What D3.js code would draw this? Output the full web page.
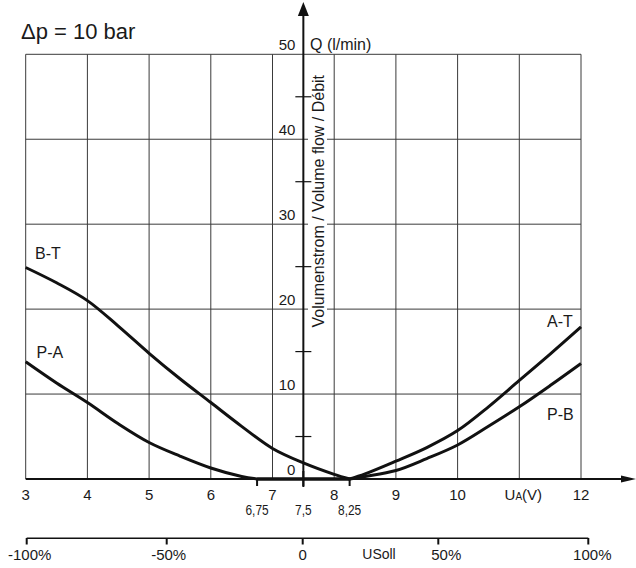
<!DOCTYPE html>
<html>
<head>
<meta charset="utf-8">
<script src="https://cdn.jsdelivr.net/npm/d3@7"></script>
<style>
  body { margin: 0; background: #fff; }
  text { font-family: "Liberation Sans", Arial, sans-serif; fill: #1a1a1a; }
</style>
</head>
<body>
<svg width="636" height="568"></svg>
<script>
// volts on the x axis, Q (l/min) on the y axis
var voltTicks = [3, 4, 5, 6, 7, 8, 9, 10, 11, 12]
var flowTicks = [0, 10, 20, 30, 40, 50]
var flowMinor = [5, 15, 25, 35, 45]
var subTicks = [6.75, 7.5, 8.25]
var subLabels = ['6,75', '7,5', '8,25']
var pctTicks = [-100, -50, 0, 50, 100]
var pctLabels = ['-100%', '-50%', '0', '50%', '100%']
var deadBand = [6.75, 8.25]

var btVolts = [3, 3.5, 4, 4.5, 5, 5.5, 6, 6.5, 7, 7.5, 8, 8.25]
var btFlow = [24.9, 23.1, 21.0, 18.0, 14.8, 11.8, 9.0, 6.2, 3.6, 1.9, 0.55, 0]
var paVolts = [3, 3.5, 4, 4.5, 5, 5.5, 6, 6.5, 6.75]
var paFlow = [13.8, 11.3, 9.0, 6.5, 4.3, 2.7, 1.3, 0.3, 0]
var atVolts = [8.25, 8.5, 9, 9.5, 10, 10.5, 11, 11.5, 12]
var atFlow = [0, 0.6, 2.1, 3.7, 5.7, 8.5, 11.6, 14.7, 17.9]
var pbVolts = [8.25, 8.5, 9, 9.5, 10, 10.5, 11, 11.5, 12]
var pbFlow = [0, 0.3, 1.0, 2.4, 4.0, 6.2, 8.5, 11.0, 13.6]

var svg = d3.select('svg')

var x = d3.scaleLinear().domain([3, 12]).range([25.7, 581])
var y = d3.scaleLinear().domain([0, 50]).range([479, 54.3])
var pct = d3.scaleLinear().domain(pctTicks).range([26.7, 166.7, 302.7, 438.3, 588.3])
var axisX = x(7.5)

// grid
var grid = svg.append('g').attr('stroke', '#3a3a3a').attr('stroke-width', 1)
grid.selectAll('line.v')
  .data(voltTicks)
  .enter().append('line')
  .attr('x1', function (d) { return x(d) }).attr('x2', function (d) { return x(d) })
  .attr('y1', y(50)).attr('y2', y(0))
grid.selectAll('line.h')
  .data(flowTicks.filter(function (d) { return d > 0 }))
  .enter().append('line')
  .attr('x1', x(3)).attr('x2', x(12))
  .attr('y1', function (d) { return y(d) }).attr('y2', function (d) { return y(d) })

// rotated axis title with white gap behind it
var titleG = svg.append('g')
var gap = titleG.append('rect').attr('fill', '#fff')
var vTitle = titleG.append('text')
  .attr('transform', 'translate(324,327.5) rotate(-90)')
  .attr('font-size', 16)
  .text('Volumenstrom / Volume flow / Débit')
var bb = vTitle.node().getBBox()
gap.attr('x', 308).attr('y', 327.5 - bb.width - 2).attr('width', 19).attr('height', bb.width + 4)

// curves
var line = d3.line()
  .x(function (d) { return x(d[0]) })
  .y(function (d) { return y(d[1]) })
  .curve(d3.curveCatmullRom.alpha(0.5))

function curve (volts, flow) {
  svg.append('path')
    .attr('d', line(d3.zip(volts, flow)))
    .attr('fill', 'none')
    .attr('stroke', '#111')
    .attr('stroke-width', 3)
}
curve(btVolts, btFlow)
curve(paVolts, paFlow)
curve(atVolts, atFlow)
curve(pbVolts, pbFlow)

// axes
var ax = svg.append('g').attr('stroke', '#111')
ax.append('line').attr('x1', x(3)).attr('x2', 624).attr('y1', y(0)).attr('y2', y(0)).attr('stroke-width', 2)
ax.append('line').attr('x1', x(deadBand[0])).attr('x2', x(deadBand[1])).attr('y1', y(0)).attr('y2', y(0)).attr('stroke-width', 3.5)
svg.append('path').attr('d', 'M621,475.5L636.5,479L621,482.5Z').attr('fill', '#111')
ax.append('line').attr('x1', axisX).attr('x2', axisX).attr('y1', y(0) + 8).attr('y2', 14).attr('stroke-width', 2)
svg.append('path').attr('d', 'M' + (axisX - 5.5) + ',16L' + axisX + ',2L' + (axisX + 5.5) + ',16Z').attr('fill', '#111')

ax.selectAll('line.minor')
  .data(flowMinor)
  .enter().append('line')
  .attr('x1', axisX - 8).attr('x2', axisX + 8)
  .attr('y1', function (d) { return y(d) }).attr('y2', function (d) { return y(d) })
  .attr('stroke-width', 1.2)
ax.selectAll('line.sub')
  .data(subTicks)
  .enter().append('line')
  .attr('x1', function (d) { return x(d) }).attr('x2', function (d) { return x(d) })
  .attr('y1', function (d) { return d === 7.5 ? y(0) - 8 : y(0) }).attr('y2', y(0) + 7)
  .attr('stroke-width', 2)

// tick labels
svg.selectAll('text.vt')
  .data(voltTicks.filter(function (d) { return d !== 11 }))
  .enter().append('text')
  .attr('x', function (d) { return x(d) }).attr('y', 500)
  .attr('text-anchor', 'middle').attr('font-size', 15)
  .text(function (d) { return d })
var ua = svg.append('text').attr('x', x(11) + 4).attr('y', 500).attr('text-anchor', 'middle').attr('font-size', 15)
ua.append('tspan').text('U')
ua.append('tspan').attr('font-size', 10).text('A')
ua.append('tspan').text('(V)')

svg.selectAll('text.st')
  .data(subTicks)
  .enter().append('text')
  .attr('x', function (d) { return x(d) / 0.85 }).attr('y', 515)
  .attr('text-anchor', 'middle').attr('font-size', 14)
  .attr('transform', 'scale(0.85,1)')
  .text(function (d, i) { return subLabels[i] })

svg.selectAll('text.ft')
  .data(flowTicks)
  .enter().append('text')
  .attr('x', axisX - 8).attr('y', function (d) { return y(d) - 4 })
  .attr('text-anchor', 'end').attr('font-size', 15)
  .text(function (d) { return d })

svg.append('text').attr('x', 310).attr('y', 50).attr('font-size', 16).text('Q (l/min)')
svg.append('text').attr('x', 21).attr('y', 39).attr('font-size', 22).text('Δp = 10 bar')

// curve labels
var curveLabels = [['B-T', 35, 259], ['P-A', 36.5, 357.5], ['A-T', 547, 326.5], ['P-B', 547, 420]]
svg.selectAll('text.cl')
  .data(curveLabels)
  .enter().append('text')
  .attr('x', function (d) { return d[1] }).attr('y', function (d) { return d[2] })
  .attr('font-size', 16)
  .text(function (d) { return d[0] })

// percent scale
var ps = svg.append('g').attr('stroke', '#111')
ps.append('line').attr('x1', pct(-100)).attr('x2', pct(100)).attr('y1', 538.3).attr('y2', 538.3).attr('stroke-width', 1.5)
ps.selectAll('line.pt')
  .data(pctTicks)
  .enter().append('line')
  .attr('x1', function (d) { return pct(d) }).attr('x2', function (d) { return pct(d) })
  .attr('y1', 538).attr('y2', 544.5).attr('stroke-width', 2)
var pctOffset = [3, 2, 0, 8, 4]
svg.selectAll('text.pl')
  .data(pctTicks)
  .enter().append('text')
  .attr('x', function (d, i) { return pct(d) + pctOffset[i] }).attr('y', 560)
  .attr('text-anchor', 'middle').attr('font-size', 15)
  .text(function (d, i) { return pctLabels[i] })
svg.append('text').attr('x', 379).attr('y', 559).attr('text-anchor', 'middle').attr('font-size', 14).text('USoll')
</script>
</body>
</html>
